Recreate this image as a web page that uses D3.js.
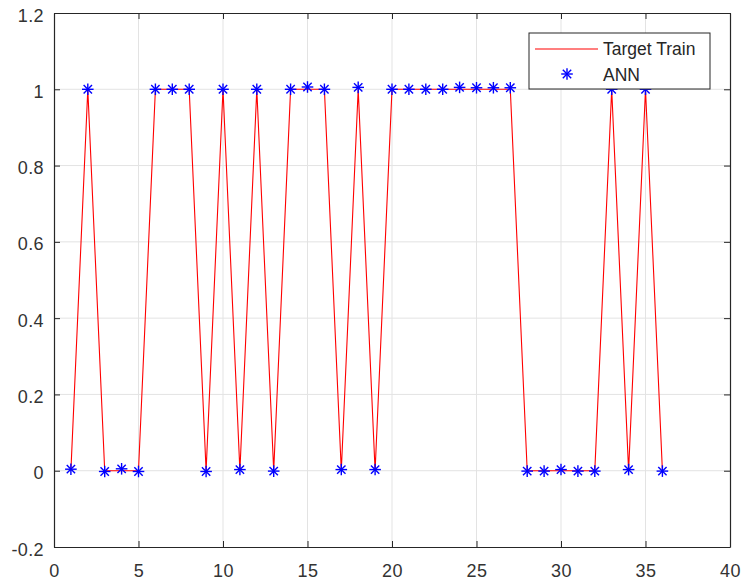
<!DOCTYPE html>
<html>
<head>
<meta charset="utf-8">
<script src="https://cdn.jsdelivr.net/npm/d3@7"></script>
<style>
  body { margin: 0; background: #fff; }
  text { font-family: "Liberation Sans", Arial, sans-serif; }
</style>
</head>
<body>
<svg width="744" height="583"></svg>
<script>
// sample index
const samples = d3.range(1, 37);
// target values (red line)
const target = [0, 1, 0, 0, 0, 1, 1, 1, 0, 1, 0, 1, 0, 1, 1, 1, 0, 1, 0, 1,
  1, 1, 1, 1, 1, 1, 1, 0, 0, 0, 0, 0, 1, 0, 1, 0];
// ANN output (blue stars)
const ann = [0.004, 1.0, -0.002, 0.005, -0.002, 1.0, 1.0, 1.0, -0.002, 1.0,
  0.003, 1.0, -0.001, 1.0, 1.006, 1.0, 0.003, 1.005, 0.003, 1.0,
  1.0, 1.0, 1.0, 1.005, 1.004, 1.004, 1.004, -0.001, -0.001, 0.003,
  -0.001, -0.001, 1.0, 0.003, 1.0, -0.001];
const xTicks = [0, 5, 10, 15, 20, 25, 30, 35, 40];
const yTicks = [-0.2, 0, 0.2, 0.4, 0.6, 0.8, 1, 1.2];

const svg = d3.select("svg");
const pLeft = 54, pRight = 730, pTop = 13, pBottom = 547;

let x = d3.scaleLinear().domain([0, 40]).range([pLeft, pRight]);
let y = d3.scaleLinear().domain([-0.2, 1.2]).range([pBottom, pTop]);

const ink = "#262626";

// grid
let grid = svg.append("g").attr("stroke", "#e3e3e3").attr("stroke-width", 1);
grid.selectAll("line.gx")
  .data(xTicks.slice(1, -1))
  .enter().append("line")
  .attr("x1", d => x(d)).attr("x2", d => x(d))
  .attr("y1", pTop).attr("y2", pBottom);
grid.selectAll("line.gy")
  .data(yTicks.slice(1, -1))
  .enter().append("line")
  .attr("y1", d => y(d)).attr("y2", d => y(d))
  .attr("x1", pLeft).attr("x2", pRight);

// red target line
let line = d3.line()
  .x((d, i) => x(samples[i]))
  .y(d => y(d));
svg.append("path")
  .datum(target)
  .attr("fill", "none")
  .attr("stroke", "#ff0000")
  .attr("stroke-width", 1.1)
  .attr("d", line);

// star markers
function star(g, r) {
  g.append("line").attr("x1", -r).attr("x2", r).attr("y1", 0).attr("y2", 0);
  g.append("line").attr("x1", 0).attr("x2", 0).attr("y1", -r).attr("y2", r);
  const k = r * 0.72;
  g.append("line").attr("x1", -k).attr("x2", k).attr("y1", -k).attr("y2", k);
  g.append("line").attr("x1", -k).attr("x2", k).attr("y1", k).attr("y2", -k);
}

svg.append("g")
  .attr("stroke", "#0000ff")
  .attr("stroke-width", 1.4)
  .selectAll("g")
  .data(ann)
  .enter().append("g")
  .attr("transform", (d, i) => `translate(${x(samples[i])},${y(d)})`)
  .each(function() { star(d3.select(this), 5.8); });

// axes (box with ticks inside on all sides)
let xAxis = svg.append("g")
  .attr("transform", `translate(0,${pBottom})`)
  .call(d3.axisBottom(x).tickValues(xTicks).tickSizeInner(-6).tickSizeOuter(0).tickPadding(17));
let xTop = svg.append("g")
  .attr("transform", `translate(0,${pTop})`)
  .call(d3.axisTop(x).tickValues(xTicks).tickSizeInner(-6).tickSizeOuter(0).tickFormat(""));
let yAxis = svg.append("g")
  .attr("transform", `translate(${pLeft},0)`)
  .call(d3.axisLeft(y).tickValues(yTicks).tickSizeInner(-6).tickSizeOuter(0).tickPadding(10)
    .tickFormat(d => String(+d.toFixed(1))));
let yRight = svg.append("g")
  .attr("transform", `translate(${pRight},0)`)
  .call(d3.axisRight(y).tickValues(yTicks).tickSizeInner(-6).tickSizeOuter(0).tickFormat(""));

[xAxis, xTop, yAxis, yRight].forEach(a => {
  a.select(".domain").attr("stroke", ink).attr("stroke-width", 1.2);
  a.selectAll(".tick line").attr("stroke", ink);
  a.selectAll(".tick text")
    .attr("fill", "#333")
    .style("font-size", "18px")
    .style("letter-spacing", "0.4px")
    .style("font-family", "'Liberation Sans', Arial, sans-serif");
});
xAxis.selectAll(".tick text").attr("dy", "0.71em");
yAxis.selectAll(".tick text").attr("dy", "0.45em");

// legend
let legend = svg.append("g").attr("transform", "translate(529,33)");
legend.append("rect")
  .attr("width", 181).attr("height", 56)
  .attr("fill", "#fff").attr("stroke", ink).attr("stroke-width", 1);
legend.append("line")
  .attr("x1", 6).attr("x2", 69).attr("y1", 16).attr("y2", 16)
  .attr("stroke", "#ff0000").attr("stroke-width", 1.1);
legend.append("text")
  .attr("x", 74).attr("y", 22)
  .attr("fill", ink).style("font-size", "17.5px")
  .text("Target Train");
let ls = legend.append("g")
  .attr("transform", "translate(38,41)")
  .attr("stroke", "#0000ff").attr("stroke-width", 1.4);
star(ls, 5.8);
legend.append("text")
  .attr("x", 74).attr("y", 48)
  .attr("fill", ink).style("font-size", "17.5px")
  .text("ANN");
</script>
</body>
</html>
